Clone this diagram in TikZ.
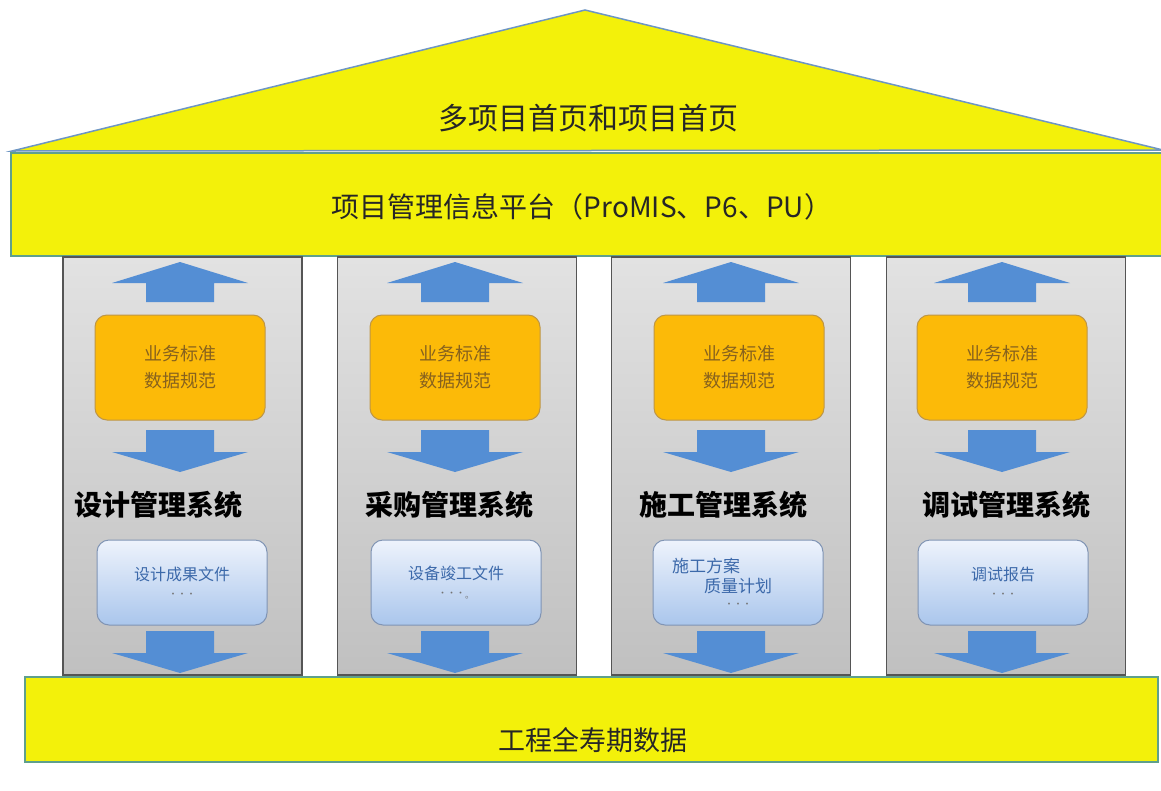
\documentclass[tikz,border=0pt]{standalone}
\usepackage{fontspec}
\newfontfamily\cjk{Noto Sans CJK SC}
\definecolor{ylw}{RGB}{243,241,10}
\definecolor{ylwedge}{RGB}{95,160,140}
\definecolor{roofedge}{RGB}{110,150,195}
\definecolor{colTop}{RGB}{226,226,226}
\definecolor{colBot}{RGB}{192,192,192}
\definecolor{colline}{RGB}{85,85,85}
\definecolor{arrblue}{RGB}{84,142,212}
\definecolor{org}{RGB}{252,186,8}
\definecolor{orgline}{RGB}{190,150,70}
\definecolor{orgtext}{RGB}{135,98,30}
\definecolor{docTop}{RGB}{238,243,252}
\definecolor{docBot}{RGB}{170,198,236}
\definecolor{docline}{RGB}{128,148,180}
\definecolor{doctext}{RGB}{60,105,170}
\begin{document}
\begin{tikzpicture}[x=1pt,y=-1pt,
  bar/.style={draw=ylwedge,line width=2pt,fill=ylw,inner sep=0pt},
  colbox/.style={draw=colline,line width=1.2pt,top color=colTop,bottom color=colBot,inner sep=0pt,minimum width=239pt,minimum height=418pt},
  stdbox/.style={draw=orgline,line width=1pt,fill=org,rounded corners=12pt,minimum width=170pt,minimum height=105pt,align=center,text=orgtext,font=\cjk\fontsize{18}{27}\selectfont},
  docbox/.style={draw=docline,line width=1pt,top color=docTop,bottom color=docBot,rounded corners=12pt,minimum width=170pt,minimum height=85pt,align=center,text=doctext,font=\cjk\fontsize{16}{21}\selectfont},
  systitle/.style={font=\cjk\bfseries\fontsize{28}{30}\selectfont,text=black,inner sep=0pt},
  bigtext/.style={font=\cjk\fontsize{28}{30}\selectfont,text=black!85,inner sep=0pt},
  uparr/.pic={\fill[arrblue] (0,0) -- (68,21) -- (34,21) -- (34,40) -- (-34,40) -- (-34,21) -- (-68,21) -- cycle;},
  dnarr/.pic={\fill[arrblue] (0,0) -- (68,-20) -- (34,-20) -- (34,-42) -- (-34,-42) -- (-34,-20) -- (-68,-20) -- cycle;}
]
\useasboundingbox (0,0) rectangle (1161,790);
% roof
\filldraw[fill=ylw,draw=roofedge,line width=1.5pt] (12,151) -- (585,10) -- (1163,150) -- cycle;
\node[bigtext,font=\cjk\fontsize{30}{32}\selectfont] (roofT) at (588,118) {多项目首页和项目首页};
% platform
\node[bar,minimum width=1154pt,minimum height=103pt] (plat) at (588,204) {};
\node[bigtext] (platT) at (582,207) {项目管理信息平台（ProMIS、P6、PU）};
% columns
\node[colbox] (c1) at (182.5,466) {};
\node[colbox] (c2) at (457,466) {};
\node[colbox] (c3) at (731,466) {};
\node[colbox] (c4) at (1006,466) {};
% column 1
\pic at (180,262) {uparr};
\node[stdbox] (s1) at (180,367.5) {业务标准\\数据规范};
\pic at (180,472) {dnarr};
\node[systitle] (t1) at (158,505) {设计管理系统};
\node[docbox] (d1) at (182,582.5) {设计成果文件\\[-4pt]{\fontsize{9}{9}\selectfont\color{black!55}···}};
\pic at (180,673) {dnarr};
% column 2
\pic at (455,262) {uparr};
\node[stdbox] (s2) at (455,367.5) {业务标准\\数据规范};
\pic at (455,472) {dnarr};
\node[systitle] (t2) at (449,505) {采购管理系统};
\node[docbox] (d2) at (456,582.5) {设备竣工文件\\[-4pt]{\fontsize{9}{9}\selectfont\color{black!55}···\raisebox{-2pt}{。}}};
\pic at (455,673) {dnarr};
% column 3
\pic at (731,262) {uparr};
\node[stdbox] (s3) at (739,367.5) {业务标准\\数据规范};
\pic at (731,472) {dnarr};
\node[systitle] (t3) at (723,505) {施工管理系统};
\node[docbox,font=\cjk\fontsize{17}{21}\selectfont] (d3) at (738,582.5) {施工方案\hspace*{64pt}\\[-1pt]质量计划\\[-6pt]{\fontsize{9}{9}\selectfont\color{black!55}···}};
\pic at (731,673) {dnarr};
% column 4
\pic at (1002,262) {uparr};
\node[stdbox] (s4) at (1002,367.5) {业务标准\\数据规范};
\pic at (1002,472) {dnarr};
\node[systitle] (t4) at (1006,505) {调试管理系统};
\node[docbox] (d4) at (1003,582.5) {调试报告\\[-4pt]{\fontsize{9}{9}\selectfont\color{black!55}···}};
\pic at (1002,673) {dnarr};
% base
\node[bar,minimum width=1133pt,minimum height=85pt] (base) at (591.5,719.5) {};
\node[bigtext,font=\cjk\fontsize{27}{30}\selectfont] (baseT) at (593,740) {工程全寿期数据};
\end{tikzpicture}
\end{document}
